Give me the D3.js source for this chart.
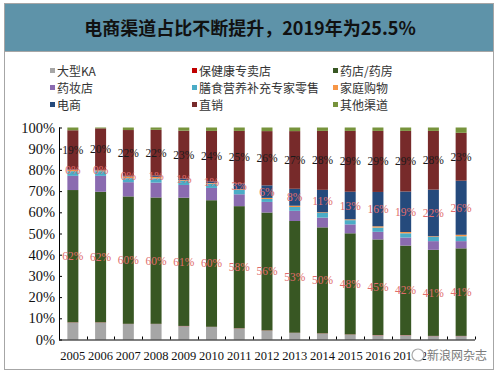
<!DOCTYPE html>
<html lang="zh">
<head>
<meta charset="UTF-8">
<title>电商渠道占比不断提升</title>
<script src="https://d3js.org/d3.v7.min.js"></script>
<style>
  body { margin: 0; background: #fff; }
  svg text { font-family: "Liberation Serif", "Times New Roman", serif; }
</style>
</head>
<body>
<div id="chart"></div>
<script>
// years on the x axis
const years = ["2005","2006","2007","2008","2009","2010","2011","2012","2013","2014","2015","2016","2017","2018","2019"];

// channel names, bottom of the stack first
const channels = ["大型KA","保健康专卖店","药店/药房","药妆店","膳食营养补充专家零售","家庭购物","电商","直销","其他渠道"];

// share of each channel per year (%)
const bigKA      = [8.0, 8.0, 7.3, 7.3, 6.3, 5.9, 5.2, 4.2, 3.1, 2.8, 2.3, 2.0, 2.0, 1.6, 1.6];
const healthShop = [0.1, 0.1, 0.1, 0.1, 0.1, 0.1, 0.1, 0.1, 0.1, 0.1, 0.1, 0.1, 0.1, 0.1, 0.1];
const pharmacy   = [62.4, 61.6, 60.1, 59.6, 60.5, 59.7, 57.6, 55.6, 52.7, 50.0, 47.7, 45.1, 42.2, 40.6, 41.3];
const cosmetics  = [6.7, 7.5, 6.7, 7.0, 6.0, 5.8, 5.6, 5.0, 4.8, 4.6, 4.2, 3.6, 3.8, 4.1, 3.4];
const nutrition  = [2.2, 2.2, 1.9, 2.0, 2.0, 2.0, 2.1, 1.4, 1.8, 2.2, 2.0, 2.0, 2.0, 2.0, 2.3];
const homeShop   = [0.6, 0.4, 0.8, 0.7, 0.3, 0.3, 0.3, 0.5, 0.6, 0.3, 0.4, 0.6, 0.6, 0.3, 0.7];
const ecommerce  = [0.2, 0.2, 0.3, 0.6, 0.7, 0.8, 2.6, 5.9, 8.0, 10.6, 13.0, 16.2, 19.1, 22.0, 25.5];
const direct     = [18.5, 19.6, 21.6, 21.6, 22.6, 23.8, 24.9, 25.6, 27.2, 27.8, 28.7, 28.8, 28.6, 27.7, 22.6];
const others     = [1.3, 0.4, 1.2, 1.1, 1.5, 1.6, 1.6, 1.7, 1.7, 1.6, 1.6, 1.6, 1.6, 1.6, 2.5];

const yTicks = [0, 10, 20, 30, 40, 50, 60, 70, 80, 90, 100];

const colors = ["#a6a6a6","#c00000","#385723","#8a6bb0","#4bacc6","#f79646","#254a7c","#772a2a","#77933c"];
// which segments carry a value label, and in what colour
const labelColors = { "药店/药房": "#e06c6c", "电商": "#e06c6c", "直销": "#1a1a1a" };

const series = [bigKA, healthShop, pharmacy, cosmetics, nutrition, homeShop, ecommerce, direct, others];
const rows = years.map((yr, i) => {
  const r = { year: yr };
  channels.forEach((c, k) => r[c] = series[k][i]);
  return r;
});

const W = 500, H = 376;
const svg = d3.select("#chart").append("svg")
  .attr("width", W).attr("height", H);

// frame and title band
svg.append("rect").attr("x", 4.5).attr("y", 3.5).attr("width", 489).attr("height", 366)
  .attr("fill", "#fff").attr("stroke", "#a6a6a6");
svg.append("rect").attr("x", 4.5).attr("y", 3.5).attr("width", 489).attr("height", 48)
  .attr("fill", "#5e93a9").attr("stroke", "#a6a6a6");
svg.append("text")
  .attr("x", 250).attr("y", 35)
  .attr("text-anchor", "middle")
  .style("font-family", "'Noto Sans CJK SC', sans-serif")
  .style("font-size", "18px").style("font-weight", "bold")
  .attr("fill", "#111")
  .text("电商渠道占比不断提升，2019年为25.5%");

// legend, three columns
const legendOrder = ["大型KA","保健康专卖店","药店/药房","药妆店","膳食营养补充专家零售","家庭购物","电商","直销","其他渠道"];
const colX = [50, 192, 333], rowY = [71, 88, 105];
const lg = svg.append("g").selectAll("g")
  .data(legendOrder).enter().append("g")
  .attr("transform", (d, i) => `translate(${colX[i % 3]},${rowY[Math.floor(i / 3)]})`);
lg.append("rect").attr("x", 0).attr("y", -3).attr("width", 5).attr("height", 5)
  .attr("fill", d => colors[channels.indexOf(d)]);
lg.append("text").attr("x", 7).attr("y", 4.5)
  .style("font-family", "'Noto Sans CJK SC', sans-serif")
  .style("font-size", "12px").attr("fill", "#333")
  .text(d => d);

// plot
const x0 = 59, x1 = 475, yTop = 127.5, yBot = 339.5;
const x = d3.scaleBand().domain(years).range([x0, x1]).padding(0);
const y = d3.scaleLinear().domain([0, 100]).range([yBot, yTop]);
const barW = 11;

const stack = d3.stack().keys(channels)(rows);

const g = svg.append("g");
g.selectAll("g.layer").data(stack).enter().append("g")
  .attr("class", "layer")
  .attr("fill", d => colors[channels.indexOf(d.key)])
  .selectAll("rect").data(d => d).enter().append("rect")
  .attr("x", d => x(d.data.year) + (x.bandwidth() - barW) / 2)
  .attr("width", barW)
  .attr("y", d => y(d[1]))
  .attr("height", d => y(d[0]) - y(d[1]));

// value labels
stack.filter(s => labelColors[s.key]).forEach(s => {
  g.append("g").selectAll("text").data(s).enter().append("text")
    .attr("x", d => x(d.data.year) + x.bandwidth() / 2)
    .attr("y", d => y((d[0] + d[1]) / 2) + 4)
    .attr("text-anchor", "middle")
    .style("font-size", "11.5px")
    .attr("fill", labelColors[s.key])
    .text(d => Math.round(d[1] - d[0]) + "%");
});

// axes
const yAxis = svg.append("g")
  .attr("transform", `translate(${x0},0)`)
  .call(d3.axisLeft(y).tickValues(yTicks).tickSize(-3).tickPadding(4).tickFormat(d => d + "%"));
yAxis.select(".domain").attr("d", `M0.5,${yTop}V${yBot}`);
yAxis.selectAll("text").style("font-size", "14.5px")
  .style("font-family", "'Liberation Serif', serif").attr("fill", "#111");

const bounds = years.map(d => x(d)).concat([x1]);
const xAxis = svg.append("g").attr("transform", `translate(0,${yBot})`);
xAxis.append("path").attr("d", `M${x0},0.5H${x1}`).attr("stroke", "#000");
xAxis.selectAll("line").data(bounds).enter().append("line")
  .attr("x1", d => Math.round(d) + 0.5).attr("x2", d => Math.round(d) + 0.5)
  .attr("y1", 0).attr("y2", -3).attr("stroke", "#000");
xAxis.selectAll("text").data(years).enter().append("text")
  .attr("x", d => x(d) + x.bandwidth() / 2)
  .attr("y", 20)
  .attr("text-anchor", "middle")
  .style("font-size", "12.5px").attr("fill", "#111")
  .text(d => d);

// watermark over the last year labels
const wm = svg.append("g").attr("transform", "translate(418,355)");
wm.append("circle").attr("r", 6).attr("fill", "#fff").attr("stroke", "#aaa").attr("stroke-width", 1.2);
wm.append("text").attr("x", 9).attr("y", 5)
  .style("font-family", "'Noto Sans CJK SC', sans-serif").style("font-size", "12px")
  .attr("fill", "#7a7a7a").attr("stroke", "#fff").attr("stroke-width", 2.5)
  .attr("paint-order", "stroke")
  .text("新浪网杂志");
</script>
</body>
</html>
